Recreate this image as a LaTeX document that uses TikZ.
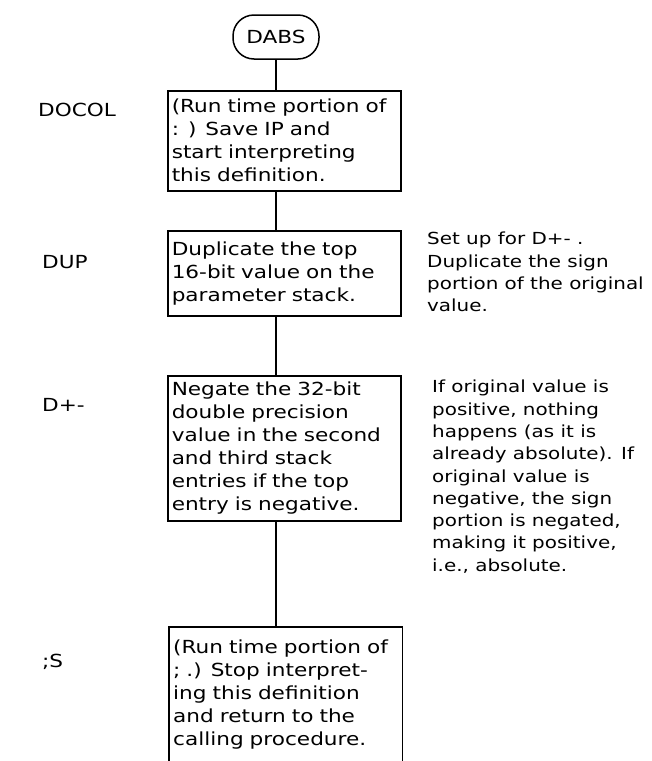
\documentclass[tikz,border=0pt]{standalone}
\usepackage{fontspec}
\setmainfont[FakeStretch=1.2]{DejaVu Sans}
\begin{document}
\begin{tikzpicture}[x=1pt,y=-1pt,
  txt/.style={font=\fontsize{18}{23}\selectfont},
  box/.style={txt, draw, line width=1.5pt, anchor=north west, text width=225pt,
    inner xsep=4pt, inner ysep=0pt, align=left},
  openbox/.style={txt, anchor=north west, text width=225pt,
    inner xsep=4pt, inner ysep=0pt, align=left},
  term/.style={txt, draw, line width=1.5pt, rounded corners=21pt,
    minimum width=86pt, minimum height=44pt, inner sep=0pt},
  lab/.style={txt, anchor=west, inner sep=0pt},
  note/.style={font=\fontsize{16.6}{22.3}\selectfont, anchor=north west, inner sep=0pt, align=left},
  conn/.style={line width=1.5pt},
  boxline/.style={line width=1.5pt}]
\useasboundingbox (0,0) rectangle (652,761);
\node[term] (dabs) at (276,37) {DABS};
\node[box, minimum height=100pt] (b1) at (167,90) {(Run time portion of\\: ) Save IP and\\start interpreting\\this definition.};
\node[box, minimum height=85pt] (b2) at (167,230) {Duplicate the top\\16-bit value on the\\parameter stack.};
\node[box, minimum height=145pt] (b3) at (167,375) {Negate the 32-bit\\double precision\\value in the second\\and third stack\\entries if the top\\entry is negative.};
\node[openbox, minimum height=134pt] (b4) at (169,627) {(Run time portion of\\; .) Stop interpret-\\ing this definition\\and return to the\\calling procedure.};
\draw[boxline] (b4.south west) -- (b4.north west) -- (b4.north east) -- (b4.south east);
\draw[conn] (dabs.south) -- (dabs.south |- b1.north);
\draw[conn] (b1.south -| dabs.south) -- (b2.north -| dabs.south);
\draw[conn] (b2.south -| dabs.south) -- (b3.north -| dabs.south);
\draw[conn] (b3.south -| dabs.south) -- (b4.north -| dabs.south);
\node[lab] (l1) at (38,110) {DOCOL};
\node[lab] (l2) at (42,262) {DUP};
\node[lab] (l3) at (42,405) {D+-};
\node[lab] (l4) at (42,662) {;S};
\node[note] (n1) at (427,232) {Set up for D+- .\\Duplicate the sign\\portion of the original\\value.};
\node[note] (n2) at (432,380) {If original value is\\positive, nothing\\happens (as it is\\already absolute). If\\original value is\\negative, the sign\\portion is negated,\\making it positive,\\i.e., absolute.};
\end{tikzpicture}
\end{document}
